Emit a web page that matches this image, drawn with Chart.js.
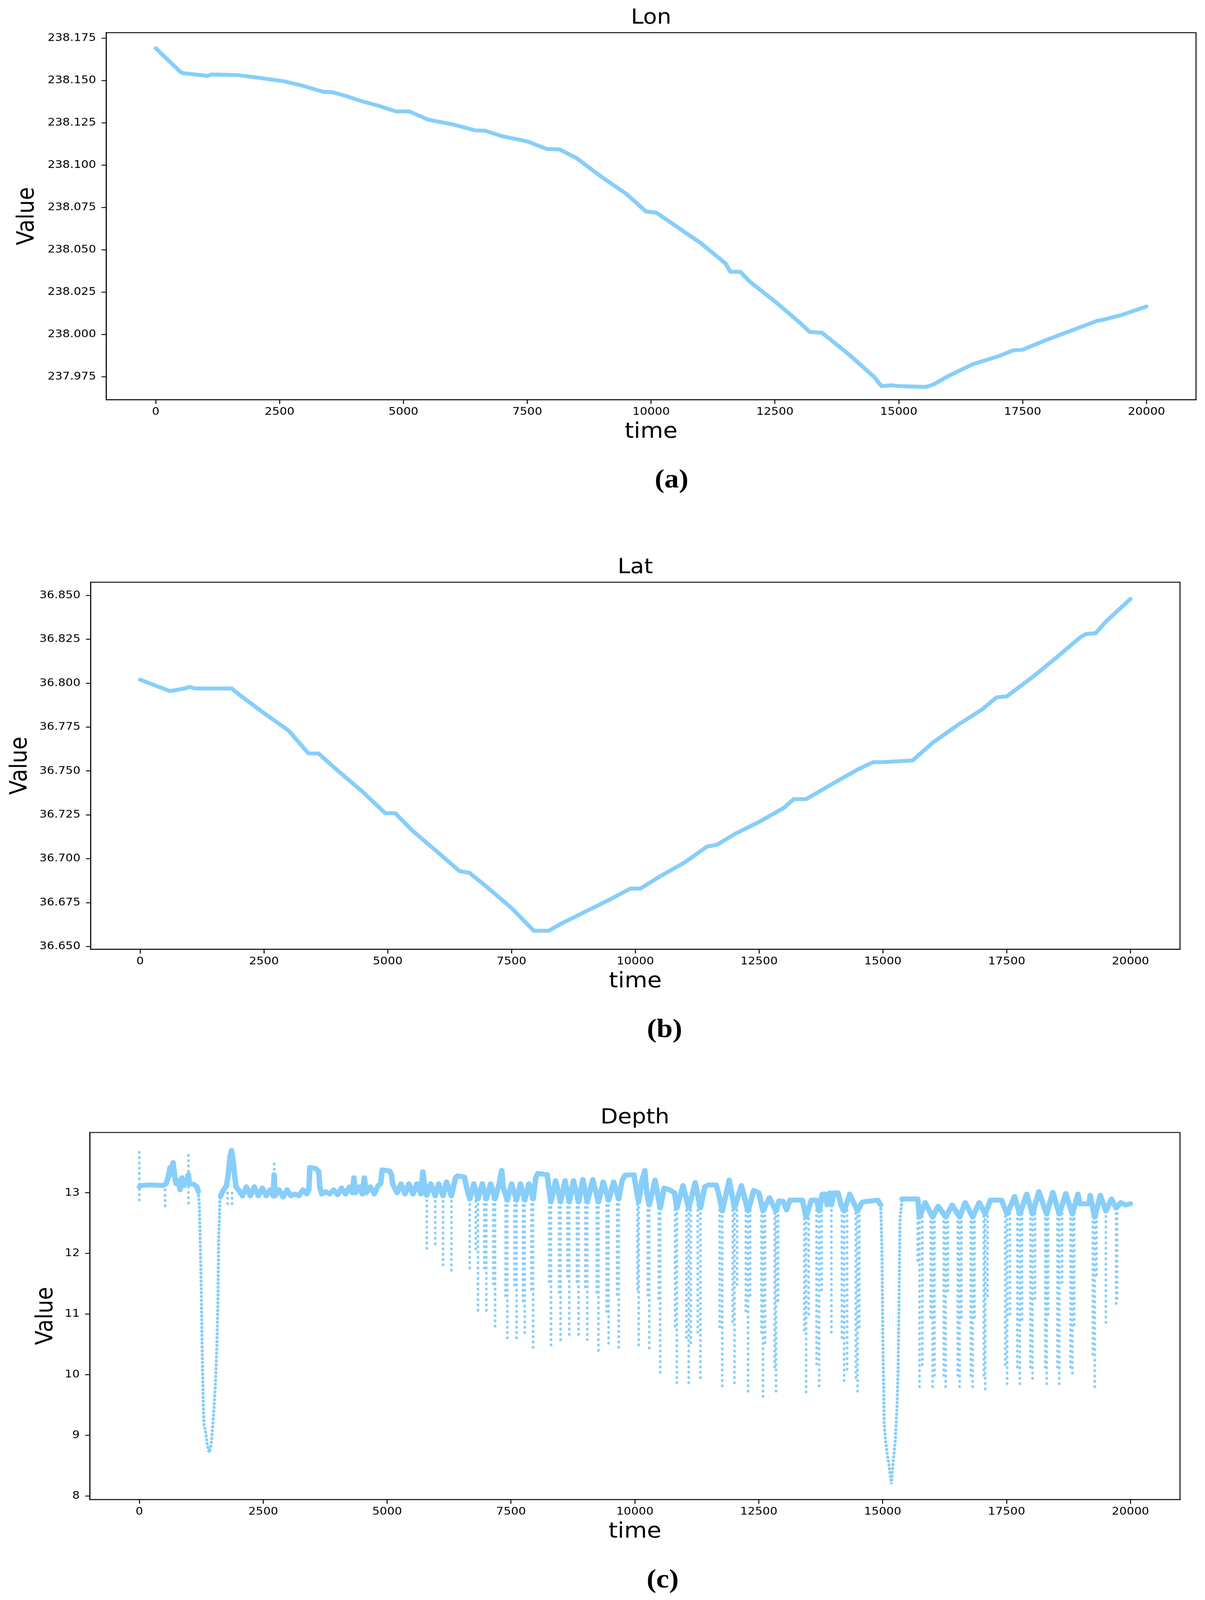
<!DOCTYPE html>
<html>
<head>
<meta charset="utf-8">
<title>Lon / Lat / Depth</title>
<script src="https://cdn.jsdelivr.net/npm/chart.js@4.4.1/dist/chart.umd.min.js"></script>
<style>
  html, body { margin: 0; background: #fff; overflow: hidden; }
  #page { position: absolute; left: 0; top: 0; width: 3086px; height: 4536px; transform-origin: 0 0; background: #fff; }
  .panel { position: absolute; left: 0; width: 3086px; height: 1270px; }
  .tag { position: absolute; font-family: "Liberation Serif", serif; font-weight: bold; font-size: 74px;
         line-height: 1; transform: translate(-50%, -50%); color: #000; }
</style>
</head>
<body>
<div id="page">
  <div class="panel" style="top:0px"><canvas id="lonChart"></canvas></div>
  <div class="panel" style="top:1558px"><canvas id="latChart"></canvas></div>
  <div class="panel" style="top:3118px"><canvas id="depthChart"></canvas></div>
  <div class="tag" style="left:1720px; top:1357px">(a)</div>
  <div class="tag" style="left:1702px; top:2915px">(b)</div>
  <div class="tag" style="left:1697px; top:4476px">(c)</div>
</div>

<script>
// A figura inteira (3086 x 4536) é ajustada à janela visível
const page = document.getElementById('page');
const sx = window.innerWidth / 3086;
const sy = window.innerHeight / 4536;
page.style.transform = 'scale(' + sx + ', ' + sy + ')';

// Tick labels
const timeTicks = [0, 2500, 5000, 7500, 10000, 12500, 15000, 17500, 20000];
const lonTicks = [237.975, 238.000, 238.025, 238.050, 238.075, 238.100, 238.125, 238.150, 238.175];
const latTicks = [36.650, 36.675, 36.700, 36.725, 36.750, 36.775, 36.800, 36.825, 36.850];
const depthTicks = [8, 9, 10, 11, 12, 13];

// Lon (panel a)
const lonTime = [0, 500, 550, 1050, 1120, 1650, 2150, 2600, 2950, 3380,
  3570, 3820, 4150, 4500, 4850, 5120, 5500, 6000, 6450, 6650,
  7000, 7500, 7900, 8150, 8500, 9000, 9500, 9900, 10100, 10500,
  11000, 11500, 11600, 11800, 12000, 12500, 13000, 13200, 13450, 14000,
  14500, 14650, 14850, 15000, 15550, 15700, 16000, 16500, 17000, 17300,
  17500, 18000, 18500, 19000, 19100, 19500, 20000];
const lonValue = [238.169, 238.155, 238.1543, 238.1527, 238.1535, 238.1532, 238.1513, 238.1494, 238.147, 238.1433,
  238.143, 238.141, 238.1378, 238.135, 238.1317, 238.1317, 238.1268, 238.124, 238.1205, 238.1203,
  238.117, 238.114, 238.1095, 238.1093, 238.104, 238.093, 238.083, 238.0725, 238.072, 238.064,
  238.054, 238.042, 238.037, 238.037, 238.031, 238.0195, 238.007, 238.0015, 238.001, 237.988,
  237.975, 237.9695, 237.970, 237.9695, 237.969, 237.9705, 237.9755, 237.9825, 237.987, 237.9905,
  237.991, 237.997, 238.0025, 238.008, 238.0085, 238.0115, 238.0165];

// Lat (panel b)
const latTime = [0, 600, 900, 1000, 1100, 1850, 2000, 2500, 3000, 3400,
  3600, 4000, 4500, 4950, 5150, 5500, 6000, 6450, 6650, 7000,
  7500, 7950, 8250, 8500, 9000, 9500, 9900, 10100, 10500, 11000,
  11450, 11650, 12000, 12500, 13000, 13200, 13450, 14000, 14500, 14800,
  15000, 15600, 16000, 16500, 17000, 17300, 17500, 18000, 18500, 19000,
  19100, 19300, 19500, 20000];
const latValue = [36.802, 36.7955, 36.797, 36.798, 36.797, 36.797, 36.7935, 36.783, 36.773, 36.760,
  36.760, 36.750, 36.738, 36.726, 36.726, 36.716, 36.704, 36.693, 36.692, 36.684,
  36.672, 36.659, 36.659, 36.663, 36.670, 36.677, 36.683, 36.683, 36.690, 36.698,
  36.707, 36.708, 36.714, 36.721, 36.729, 36.734, 36.734, 36.743, 36.751, 36.755,
  36.755, 36.756, 36.766, 36.776, 36.785, 36.792, 36.7925, 36.803, 36.8145, 36.8265,
  36.828, 36.8285, 36.835, 36.848];

// Depth (panel c): the dense band near the surface (null = break)
const bandTime = [0, 40, 200, 480, 540, 580, 620, 650, 680, 710,
  740, 790, 820, 860, 900, 960, 990, 1010, 1100, 1160, 1190, 1400,
  1640, 1700, 1760, 1800, 1830, 1860, 1890, 1920, 1950, 2000,
  2080, 2160, 2240, 2320, 2400, 2480, 2560, 2640, 2700, 2720,
  2740, 2820, 2900, 2980, 3060, 3140, 3220, 3300, 3380, 3420,
  3440, 3560, 3620, 3640, 3680, 3760, 3840, 3920, 4000, 4080,
  4160, 4240, 4300, 4330, 4360, 4440, 4500, 4540, 4580, 4660,
  4740, 4820, 4870, 4900, 5050, 5090, 5110, 5200, 5280, 5360,
  5440, 5520, 5600, 5680, 5720, 5760, 5800,
  5880, 5970, 6040, 6128, 6200, 6297, 6380, 6420, 6560, 6600,
  6667, 6750, 6833, 6920, 7002, 7090, 7178, 7260, 7312, 7340,
  7425, 7510, 7612, 7690, 7777, 7860, 7946, 8000, 8040, 8230,
  8260, 8306, 8400, 8500, 8590, 8676, 8760, 8863, 8950, 9039,
  9150, 9264, 9360, 9469, 9570, 9673, 9740, 9800, 9980, 10040,
  10075, 10140, 10201, 10240, 10289, 10406, 10511, 10590, 10700, 10800,
  10846, 10970, 11086, 11216, 11322, 11410, 11480, 11640, 11700, 11762,
  11903, 12009, 12150, 12284, 12397, 12502, 12584, 12714, 12848, 12910,
  12990, 13060, 13130, 13380, 13454, 13560, 13665, 13718, 13780, 13840,
  13880, 13930, 13965, 14020, 14100, 14160, 14222, 14335, 14493, 14564,
  14600, 14900, 14960, 15170,
  15390, 15707, 15744, 15857, 16007, 16120, 16271, 16402, 16553, 16665,
  16816, 16947, 17068, 17173, 17399, 17511, 17662, 17767, 17906, 18023,
  18151, 18309, 18433, 18564, 18696, 18827, 18940, 18978, 19166, 19185,
  19279, 19391, 19504, 19617, 19711, 19805, 19900, 20000];
const bandDepth = [13.1, 13.12, 13.13, 13.12, 13.15, 13.25, 13.42, 13.3, 13.5, 13.3,
  13.15, 13.2, 13.05, 13.25, 13.12, 13.18, 13.3, 13.15, 13.14, 13.1, 13.02, null,
  12.95, 13.05, 13.12, 13.35, 13.6, 13.7, 13.55, 13.3, 13.1, 13.05,
  12.95, 13.1, 12.95, 13.1, 12.95, 13.08, 12.95, 13.05, 12.95, 13.3,
  12.95, 13.05, 12.93, 13.05, 12.95, 12.98, 12.95, 13.05, 12.98, 13.05,
  13.42, 13.4, 13.35, 13.1, 12.98, 13.02, 12.98, 13.05, 12.97, 13.08,
  12.98, 13.1, 13.0, 13.25, 13.0, 13.1, 12.98, 13.25, 13.0, 13.1,
  12.98, 13.12, 13.15, 13.38, 13.36, 13.3, 13.15, 13.0, 13.15, 12.98,
  13.15, 12.98, 13.15, 12.98, 13.35, 13.1, 12.96,
  13.15, 12.95, 13.15, 12.95, 13.18, 12.95, 13.25, 13.28, 13.26, 13.1,
  12.9, 13.15, 12.9, 13.15, 12.9, 13.15, 12.9, 13.15, 13.37, 13.1,
  12.88, 13.15, 12.88, 13.15, 12.88, 13.15, 12.9, 13.25, 13.32, 13.3,
  13.1, 12.85, 13.2, 12.85, 13.2, 12.85, 13.2, 12.85, 13.22, 12.85,
  13.22, 12.85, 13.18, 12.88, 13.18, 12.9, 13.2, 13.29, 13.3, 13.0,
  12.85, 13.2, 13.37, 13.0, 12.8, 13.21, 12.75, 13.08, 13.05, 13.0,
  12.75, 13.12, 12.75, 13.17, 12.75, 13.1, 13.13, 13.13, 12.95, 12.7,
  13.21, 12.75, 13.12, 12.7, 13.04, 13.0, 12.7, 12.92, 12.7, 12.87,
  12.86, 12.72, 12.88, 12.88, 12.6, 12.88, 12.88, 12.7, 12.98, 12.98,
  12.8, 13.0, 12.8, 13.0, 13.0, 12.8, 12.7, 12.98, 12.7, 12.82,
  12.85, 12.88, 12.8, null,
  12.9, 12.9, 12.6, 12.84, 12.6, 12.78, 12.6, 12.8, 12.6, 12.84,
  12.6, 12.84, 12.65, 12.88, 12.88, 12.65, 12.94, 12.65, 12.98, 12.65,
  13.02, 12.65, 13.01, 12.65, 12.99, 12.65, 12.98, 12.82, 12.82, 12.96,
  12.6, 12.96, 12.7, 12.9, 12.75, 12.84, 12.8, 12.82];

// Depth: the two deep dives (null = break)
const diveTime = [1190, 1210, 1240, 1270, 1290, 1305, 1330, 1370, 1410, 1450,
  1480, 1510, 1540, 1565, 1585, 1600, 1625, 1640, 8000,
  14960, 14985, 15005, 15030, 15060, 15100, 15130, 15175, 15215, 15255,
  15290, 15312, 15331, 15349, 15390];
const diveDepth = [13.02, 12.8, 11.8, 10.3, 9.5, 9.15, 9.1, 8.85, 8.72, 8.85,
  9.15, 9.5, 9.95, 10.5, 11.2, 12.2, 12.85, 12.95, null,
  12.8, 12.1, 10.5, 9.2, 8.9, 8.65, 8.5, 8.2, 8.6, 8.92,
  9.5, 10.1, 11.3, 12.56, 12.9];

// Depth: the short dips, each a column from dipTop down to dipLow
const dipTime = [0, 520, 990, 1780, 1870, 2720, 5800, 5970, 6128, 6297,
  6667, 6790, 6833, 6960, 7002, 7140, 7178, 7390, 7425, 7570,
  7612, 7740, 7777, 7910, 7946, 8270, 8306, 8470, 8500, 8640,
  8676, 8830, 8863, 9000, 9039, 9230, 9264, 9430, 9469, 9640,
  9673, 10050, 10075, 10260, 10289, 10480, 10511, 10811, 10846, 11040,
  11086, 11128, 11269, 11322, 11710, 11762, 11974, 12009, 12062, 12238,
  12284, 12326, 12555, 12584, 12626, 12820, 12848, 12890, 13419, 13454,
  13507, 13665, 13718, 13771, 13965, 14176, 14222, 14282, 14458, 14493,
  14529, 15707, 15744, 15801, 15970, 16007, 16045, 16233, 16271, 16316,
  16515, 16553, 16590, 16778, 16816, 16853, 17041, 17068, 17117, 17474,
  17511, 17568, 17718, 17767, 17812, 17981, 18023, 18075, 18282, 18309,
  18339, 18527, 18564, 18621, 18790, 18827, 18865, 19241, 19279, 19316,
  19504, 19711, 19730];
const dipTop = [13.67, 13.05, 13.62, 13.0, 13.0, 13.48, 12.96, 12.95, 12.95, 12.95,
  12.9, 12.95, 12.9, 12.9, 12.9, 12.9, 12.9, 12.88, 12.88, 12.88,
  12.88, 12.88, 12.88, 12.9, 12.9, 12.85, 12.85, 12.85, 12.85, 12.85,
  12.85, 12.85, 12.85, 12.85, 12.85, 12.85, 12.85, 12.88, 12.88, 12.9,
  12.9, 12.9, 12.85, 12.8, 12.8, 12.75, 12.75, 12.9, 12.75, 12.8,
  12.75, 12.8, 12.8, 12.75, 12.8, 12.7, 12.8, 12.75, 12.8, 12.8,
  12.7, 12.8, 12.8, 12.7, 12.8, 12.75, 12.7, 12.8, 12.75, 12.6,
  12.75, 12.8, 12.7, 12.8, 12.8, 12.8, 12.7, 12.8, 12.75, 12.7,
  12.8, 12.85, 12.6, 12.7, 12.7, 12.6, 12.7, 12.7, 12.6, 12.7,
  12.7, 12.6, 12.7, 12.7, 12.6, 12.7, 12.7, 12.65, 12.7, 12.7,
  12.65, 12.75, 12.75, 12.65, 12.75, 12.75, 12.65, 12.75, 12.75, 12.65,
  12.75, 12.75, 12.65, 12.75, 12.75, 12.65, 12.75, 12.7, 12.6, 12.7,
  12.7, 12.75, 12.75];
const dipLow = [12.82, 12.77, 12.78, 12.77, 12.77, 12.9, 12.07, 12.11, 11.73, 11.71,
  11.73, 12.0, 11.0, 11.7, 11.02, 11.5, 10.74, 11.3, 10.53, 11.4,
  10.58, 11.2, 10.62, 11.4, 10.39, 11.5, 10.49, 11.3, 10.57, 11.6,
  10.64, 11.5, 10.66, 11.4, 10.58, 11.3, 10.35, 11.0, 10.49, 11.3,
  10.45, 11.4, 10.43, 11.3, 10.39, 11.2, 10.03, 10.78, 9.87, 10.58,
  9.87, 10.5, 10.66, 9.89, 10.78, 9.77, 10.86, 9.83, 11.45, 10.98,
  9.68, 11.3, 10.66, 9.56, 10.5, 10.07, 9.71, 11.18, 10.66, 9.64,
  10.98, 10.11, 9.75, 11.34, 10.62, 10.58, 9.85, 10.03, 9.95, 9.68,
  10.74, 11.85, 9.79, 10.11, 10.9, 9.75, 9.95, 9.95, 9.79, 11.38,
  9.91, 9.75, 10.9, 9.91, 9.73, 10.9, 9.91, 9.75, 11.3, 10.11,
  9.85, 10.98, 10.11, 9.83, 10.9, 10.11, 9.91, 11.22, 10.11, 9.81,
  10.98, 10.11, 9.83, 11.49, 10.11, 9.97, 10.78, 10.31, 9.77, 11.61,
  10.84, 11.14, 11.22];

const BLUE = '#87cefa';

Chart.defaults.font.family = '"DejaVu Sans", sans-serif';
Chart.defaults.color = '#000';

// Fecha o retângulo do gráfico (spines de cima e da direita)
const framePlugin = {
  id: 'frame',
  afterDraw(chart) {
    const { ctx, chartArea: a } = chart;
    ctx.save();
    ctx.strokeStyle = '#000';
    ctx.lineWidth = 2.5;
    ctx.strokeRect(a.left, a.top, a.right - a.left, a.bottom - a.top);
    ctx.restore();
  }
};

function points(xs, ys) {
  return xs.map((x, i) => ({ x: x, y: ys[i] }));
}

// Builds one panel; left = width of y axis box, valuePad moves the "Value" label
function buildChart(id, cfg) {
  const tickGrid = { drawOnChartArea: false, drawTicks: true, tickLength: 12, color: '#000', lineWidth: 2.5 };
  const spine = { display: true, color: '#000', width: 2.5 };
  return new Chart(document.getElementById(id), {
    type: 'scatter',
    data: { datasets: cfg.datasets },
    options: {
      animation: false,
      responsive: true,
      maintainAspectRatio: false,
      layout: { padding: { left: 0, right: cfg.rightPad, top: 0, bottom: 0 } },
      plugins: {
        legend: { display: false },
        tooltip: { enabled: false },
        title: {
          display: true, text: cfg.title, fullSize: false, color: '#000',
          font: { size: 58, weight: 'normal' }, padding: { top: 17, bottom: 6 }
        }
      },
      scales: {
        x: {
          type: 'linear', min: -1000, max: 21000,
          afterBuildTicks: s => { s.ticks = timeTicks.map(v => ({ value: v })); },
          afterFit: s => { s.height = 137; },
          ticks: { font: { size: 30 }, color: '#000', padding: 5, maxRotation: 0, autoSkip: false,
                   callback: v => String(v) },
          grid: tickGrid, border: spine,
          title: { display: true, text: 'time', color: '#000', font: { size: 60 }, padding: { top: 4, bottom: 9 } }
        },
        y: {
          type: 'linear', min: cfg.yMin, max: cfg.yMax,
          afterBuildTicks: s => { s.ticks = cfg.yTicks.map(v => ({ value: v })); },
          afterFit: s => { s.width = cfg.left; },
          ticks: { font: { size: 30 }, color: '#000', padding: 14, autoSkip: false,
                   callback: v => v.toFixed(cfg.decimals) },
          grid: tickGrid, border: spine,
          title: { display: true, text: 'Value', color: '#000', font: { size: 60 }, padding: { top: cfg.valuePad, bottom: 4 } }
        }
      }
    },
    plugins: [framePlugin]
  });
}

function trackDataset(xs, ys) {
  return {
    data: points(xs, ys), showLine: true, borderColor: BLUE, borderWidth: 11,
    pointRadius: 0, borderCapStyle: 'round', borderJoinStyle: 'round', tension: 0
  };
}

buildChart('lonChart', {
  title: 'Lon', left: 272, rightPad: 23, valuePad: 34,
  yMin: 237.9615, yMax: 238.1782, yTicks: lonTicks, decimals: 3,
  datasets: [trackDataset(lonTime, lonValue)]
});

buildChart('latChart', {
  title: 'Lat', left: 232, rightPad: 64, valuePad: 16,
  yMin: 36.6485, yMax: 36.8575, yTicks: latTicks, decimals: 3,
  datasets: [trackDataset(latTime, latValue)]
});

// Colunas das descidas curtas: topo, fundo, quebra
const dipPoints = [];
dipTime.forEach((t, i) => {
  dipPoints.push({ x: t, y: dipTop[i] }, { x: t, y: dipLow[i] }, { x: t, y: null });
});

buildChart('depthChart', {
  title: 'Depth', left: 230, rightPad: 64, valuePad: 82,
  yMin: 7.945, yMax: 13.995, yTicks: depthTicks, decimals: 0,
  datasets: [
    {
      data: dipPoints, showLine: true, spanGaps: false, borderColor: BLUE, borderWidth: 7,
      borderDash: [1, 14], borderCapStyle: 'round', pointRadius: 0
    },
    {
      data: points(diveTime, diveDepth), showLine: true, spanGaps: false, borderColor: BLUE, borderWidth: 8,
      borderDash: [1, 10], borderCapStyle: 'round', pointRadius: 0
    },
    {
      data: points(bandTime, bandDepth), showLine: true, spanGaps: false, borderColor: BLUE, borderWidth: 14,
      borderCapStyle: 'round', borderJoinStyle: 'round', pointRadius: 0
    }
  ]
});
</script>
</body>
</html>
